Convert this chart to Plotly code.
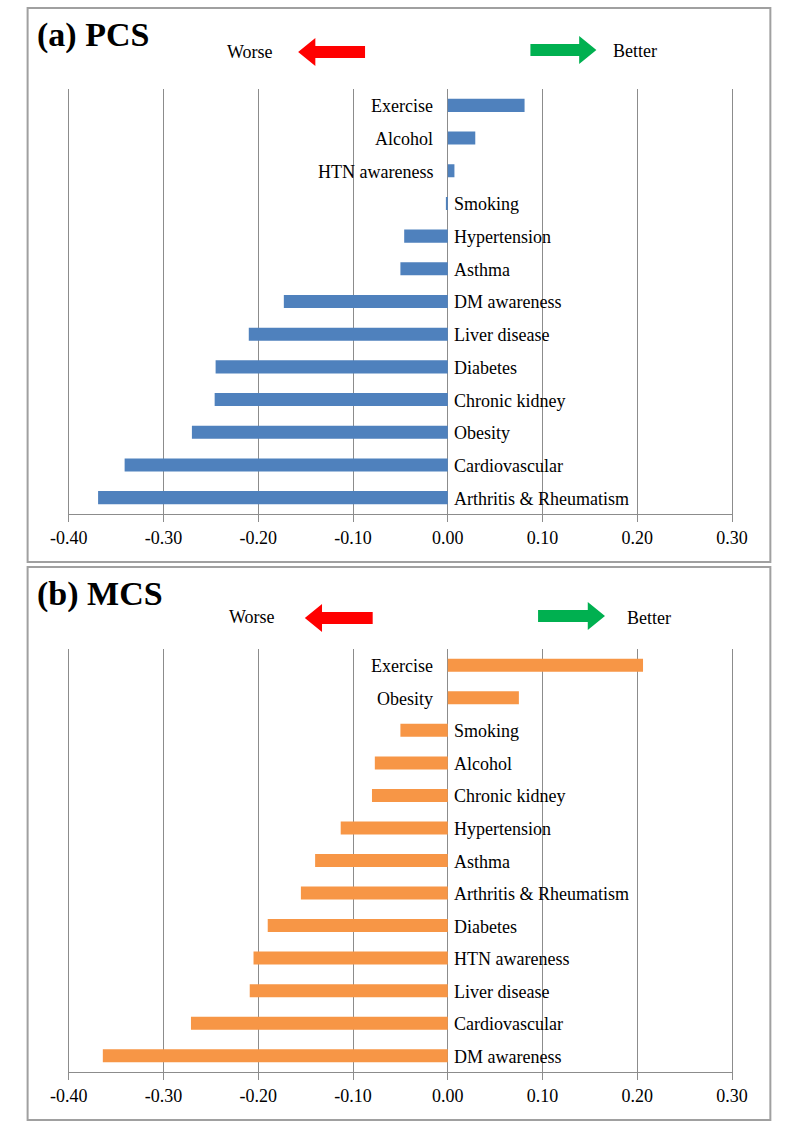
import plotly.graph_objects as go

# ---------------- data ----------------
pcs_categories = ["Exercise", "Alcohol", "HTN awareness", "Smoking", "Hypertension", "Asthma",
                  "DM awareness", "Liver disease", "Diabetes", "Chronic kidney", "Obesity",
                  "Cardiovascular", "Arthritis & Rheumatism"]
pcs_values = [0.081, 0.029, 0.007, -0.002, -0.046, -0.050, -0.173, -0.210, -0.245, -0.246,
              -0.270, -0.341, -0.369]

mcs_categories = ["Exercise", "Obesity", "Smoking", "Alcohol", "Chronic kidney", "Hypertension",
                  "Asthma", "Arthritis & Rheumatism", "Diabetes", "HTN awareness", "Liver disease",
                  "Cardiovascular", "DM awareness"]
mcs_values = [0.206, 0.075, -0.050, -0.077, -0.080, -0.113, -0.140, -0.155, -0.190, -0.205,
              -0.209, -0.271, -0.364]

tick_vals = [-0.4, -0.3, -0.2, -0.1, 0.0, 0.1, 0.2, 0.3]
tick_text = ["-0.40", "-0.30", "-0.20", "-0.10", "0.00", "0.10", "0.20", "0.30"]

panel_titles = ["(a) PCS", "(b) MCS"]

# ---------------- layout helpers ----------------
W, H = 794, 1129
FONT = "Liberation Serif"
GRID = "#8c8c8c"


def px(x):
    return x / W


def py(y):
    return 1 - y / H


fig = go.Figure()

panels = [
    dict(cats=pcs_categories, vals=pcs_values, color="#4F81BD", xa="x", ya="y",
         box=(9, 8, 786, 562), title_y=35,
         worse=(268, 52), red=(292, 362, 52), green=(535, 604, 50), better=(619, 51)),
    dict(cats=mcs_categories, vals=mcs_values, color="#F79646", xa="x2", ya="y2",
         box=(9, 567, 786, 1120), title_y=594,
         worse=(270, 617), red=(299, 370, 618), green=(543, 613, 616), better=(634, 618)),
]

shapes = []
annotations = []

for i, p in enumerate(panels):
    fig.add_trace(go.Bar(
        x=p["vals"], y=p["cats"], orientation="h",
        marker=dict(color=p["color"], line=dict(width=0)),
        width=0.4, xaxis=p["xa"], yaxis=p["ya"], showlegend=False,
        hoverinfo="skip",
    ))
    # category labels next to the zero line
    for c, v in zip(p["cats"], p["vals"]):
        annotations.append(dict(
            x=0, y=c, xref=p["xa"], yref=p["ya"], text=c, showarrow=False,
            xanchor="right" if v > 0 else "left", yanchor="middle",
            xshift=-13 if v > 0 else 4, yshift=-1,
            font=dict(family=FONT, size=18, color="black"),
        ))
    # panel border
    x0, y0, x1, y1 = p["box"]
    shapes.append(dict(type="rect", xref="paper", yref="paper",
                       x0=px(x0), y0=py(y0), x1=px(x1), y1=py(y1),
                       line=dict(color="#a0a0a0", width=2), fillcolor="rgba(0,0,0,0)"))
    # panel title
    annotations.append(dict(x=px(17), y=py(p["title_y"]), xref="paper", yref="paper",
                            text="<b>" + panel_titles[i] + "</b>", showarrow=False,
                            xanchor="left", yanchor="middle",
                            font=dict(family=FONT, size=34, color="black")))
    # Worse / Better
    wx, wy = p["worse"]
    annotations.append(dict(x=px(wx), y=py(wy), xref="paper", yref="paper", text="Worse",
                            showarrow=False, xanchor="right", yanchor="middle",
                            font=dict(family=FONT, size=18, color="black")))
    bx, by = p["better"]
    annotations.append(dict(x=px(bx), y=py(by), xref="paper", yref="paper", text="Better",
                            showarrow=False, xanchor="left", yanchor="middle",
                            font=dict(family=FONT, size=18, color="black")))
    # red arrow (pointing left)
    rl, rr, rc = p["red"]
    hl, hh, sh = 18, 14, 6
    pts = [(rl, rc), (rl + hl, rc - hh), (rl + hl, rc - sh), (rr, rc - sh),
           (rr, rc + sh), (rl + hl, rc + sh), (rl + hl, rc + hh)]
    path = "M " + " L ".join(f"{px(a):.5f},{py(b):.5f}" for a, b in pts) + " Z"
    shapes.append(dict(type="path", xref="paper", yref="paper", path=path,
                       fillcolor="#FF0000", line=dict(width=0)))
    # green arrow (pointing right)
    gl, gr, gc = p["green"]
    pts = [(gr, gc), (gr - hl, gc - hh), (gr - hl, gc - sh), (gl, gc - sh),
           (gl, gc + sh), (gr - hl, gc + sh), (gr - hl, gc + hh)]
    path = "M " + " L ".join(f"{px(a):.5f},{py(b):.5f}" for a, b in pts) + " Z"
    shapes.append(dict(type="path", xref="paper", yref="paper", path=path,
                       fillcolor="#00B050", line=dict(width=0)))

xaxis_style = dict(
    range=[-0.4, 0.3], tickmode="array", tickvals=tick_vals, ticktext=tick_text,
    showgrid=True, gridcolor=GRID, gridwidth=1,
    zeroline=True, zerolinecolor=GRID, zerolinewidth=1,
    showline=True, linecolor=GRID, linewidth=1,
    ticks="outside", ticklen=7, tickcolor=GRID, tickwidth=1,
    tickfont=dict(family=FONT, size=18, color="black"),
    fixedrange=True,
)
# left/right edge lines stand in for the gridlines at -0.40 and 0.30
yaxis_style = dict(
    autorange="reversed", showticklabels=False, showgrid=False, zeroline=False,
    showline=True, mirror=True, linecolor=GRID, linewidth=1, ticks="", fixedrange=True,
)

fig.update_layout(
    width=W, height=H, autosize=False,
    margin=dict(l=0, r=0, t=0, b=0),
    paper_bgcolor="white", plot_bgcolor="white",
    bargap=0.6,
    xaxis=dict(domain=[px(52), px(746)], anchor="y", **xaxis_style),
    yaxis=dict(domain=[py(514), py(89)], anchor="x", **yaxis_style),
    xaxis2=dict(domain=[px(52), px(746)], anchor="y2", **xaxis_style),
    yaxis2=dict(domain=[py(1072), py(649)], anchor="x2", **yaxis_style),
    shapes=shapes,
    annotations=annotations,
    font=dict(family=FONT),
    hovermode=False,
)

fig.write_html(
    "out.html",
    config={"displayModeBar": False, "staticPlot": True},
    post_script="document.body.style.margin='0';document.body.style.overflow='hidden';",
)
